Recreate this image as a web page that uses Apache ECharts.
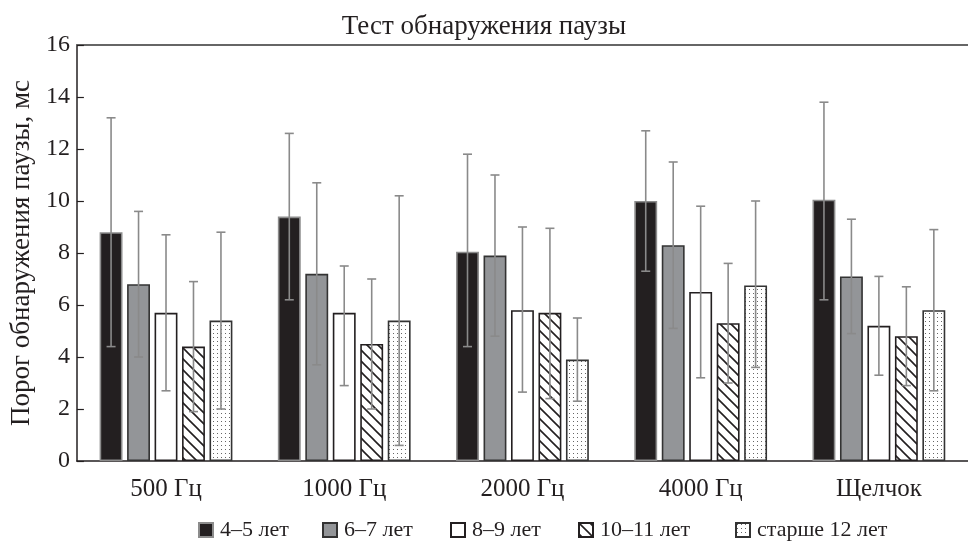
<!DOCTYPE html>
<html>
<head>
<meta charset="utf-8">
<script src="https://cdn.jsdelivr.net/npm/echarts@6/dist/echarts.min.js"></script>
<style>html,body{margin:0;padding:0;background:#fff;}#c{width:968px;height:546px;}</style>
</head>
<body>
<div id="c"></div>
<script>
const categories = ['500 Гц', '1000 Гц', '2000 Гц', '4000 Гц', 'Щелчок'];
const seriesNames = ['4–5 лет', '6–7 лет', '8–9 лет', '10–11 лет', 'старше 12 лет'];
const yTicks = [0, 2, 4, 6, 8, 10, 12, 14, 16];

const mean4_5   = [8.8, 9.4, 8.05, 10.0, 10.05];
const mean6_7   = [6.8, 7.2, 7.9, 8.3, 7.1];
const mean8_9   = [5.7, 5.7, 5.8, 6.5, 5.2];
const mean10_11 = [4.4, 4.5, 5.7, 5.3, 4.8];
const mean12    = [5.4, 5.4, 3.9, 6.75, 5.8];

const hi4_5   = [13.2, 12.6, 11.8, 12.7, 13.8];
const lo4_5   = [4.4, 6.2, 4.4, 7.3, 6.2];
const hi6_7   = [9.6, 10.7, 11.0, 11.5, 9.3];
const lo6_7   = [4.0, 3.7, 4.8, 5.1, 4.9];
const hi8_9   = [8.7, 7.5, 9.0, 9.8, 7.1];
const lo8_9   = [2.7, 2.9, 2.65, 3.2, 3.3];
const hi10_11 = [6.9, 7.0, 8.95, 7.6, 6.7];
const lo10_11 = [1.9, 2.0, 2.4, 3.0, 2.9];
const hi12    = [8.8, 10.2, 5.5, 10.0, 8.9];
const lo12    = [2.0, 0.6, 2.3, 3.6, 2.7];

const means = [mean4_5, mean6_7, mean8_9, mean10_11, mean12];
const highs = [hi4_5, hi6_7, hi8_9, hi10_11, hi12];
const lows  = [lo4_5, lo6_7, lo8_9, lo10_11, lo12];

function hatchPattern() {
  const s = 11;
  const c = document.createElement('canvas');
  c.width = s; c.height = s;
  const ctx = c.getContext('2d');
  ctx.fillStyle = '#fff'; ctx.fillRect(0, 0, s, s);
  ctx.strokeStyle = '#231f20'; ctx.lineWidth = 1.6;
  ctx.beginPath();
  ctx.moveTo(-2, -2); ctx.lineTo(s + 2, s + 2);
  ctx.moveTo(-2, s - 2); ctx.lineTo(2, s + 2);
  ctx.moveTo(s - 2, -2); ctx.lineTo(s + 2, 2);
  ctx.stroke();
  return c;
}
function dotPattern() {
  const s = 4;
  const c = document.createElement('canvas');
  c.width = s; c.height = s;
  const ctx = c.getContext('2d');
  ctx.fillStyle = '#fff'; ctx.fillRect(0, 0, s, s);
  ctx.fillStyle = '#666'; ctx.fillRect(1, 1, 1, 1);
  return c;
}

const fills = [
  '#231f20',
  '#939598',
  '#ffffff',
  { image: hatchPattern(), repeat: 'repeat' },
  { image: dotPattern(), repeat: 'repeat' }
];
const borders = ['#8c8c8c', '#333', '#231f20', '#231f20', '#333'];

const CAT_GAP = 0.255, BAR_GAP = 0.2;

const barSeries = seriesNames.map((n, i) => ({
  name: n,
  type: 'bar',
  data: means[i],
  barCategoryGap: (CAT_GAP * 100) + '%',
  barGap: (BAR_GAP * 100) + '%',
  itemStyle: { color: fills[i], borderColor: borders[i], borderWidth: 1.6 },
  emphasis: { disabled: true },
  z: 2
}));

const errSeries = seriesNames.map((n, i) => ({
  name: n,
  type: 'custom',
  data: categories.map((c, k) => [k, lows[i][k], highs[i][k]]),
  encode: { x: 0, y: [1, 2] },
  z: 5,
  silent: true,
  renderItem: function (params, api) {
    const k = api.value(0);
    const lo = api.coord([k, api.value(1)]);
    const hi = api.coord([k, api.value(2)]);
    const band = api.size([1, 0])[0];
    const w = band * (1 - CAT_GAP) / (5 + 4 * BAR_GAP);
    const x = lo[0] + (i - 2) * w * (1 + BAR_GAP);
    const cap = 4.5;
    const st = { stroke: '#8a8a8a', lineWidth: 1.6 };
    return {
      type: 'group',
      children: [
        { type: 'line', shape: { x1: x, y1: lo[1], x2: x, y2: hi[1] }, style: st },
        { type: 'line', shape: { x1: x - cap, y1: hi[1], x2: x + cap, y2: hi[1] }, style: st },
        { type: 'line', shape: { x1: x - cap, y1: lo[1], x2: x + cap, y2: lo[1] }, style: st }
      ]
    };
  }
}));

const legendLefts = [193, 317, 445, 573, 730];
const font = 'Liberation Serif';

const option = {
  backgroundColor: '#fff',
  animation: false,
  title: {
    text: 'Тест обнаружения паузы',
    left: 'center',
    top: 8,
    textStyle: { fontFamily: font, fontSize: 27, fontWeight: 'normal', color: '#231f20' }
  },
  legend: seriesNames.map((n, i) => ({
    data: [n],
    left: legendLefts[i],
    top: 514,
    icon: 'rect',
    itemWidth: 14,
    itemHeight: 14,
    itemGap: 6,
    selectedMode: false,
    textStyle: { fontFamily: font, fontSize: 22, color: '#231f20', padding: [0, 0, 0, 2] }
  })),
  grid: { left: 72, right: -2, top: 45, bottom: 85, containLabel: false },
  xAxis: [
    {
      type: 'category',
      data: categories,
      axisLine: { lineStyle: { color: '#231f20', width: 1.5 } },
      axisTick: { show: false },
      axisLabel: { fontFamily: font, fontSize: 25, color: '#231f20', margin: 16 }
    },
    {
      type: 'category',
      data: categories,
      position: 'top',
      axisLine: { lineStyle: { color: '#666', width: 2 } },
      axisTick: { show: false },
      axisLabel: { show: false }
    }
  ],
  yAxis: {
    type: 'value',
    min: yTicks[0],
    max: yTicks[yTicks.length - 1],
    interval: 2,
    name: 'Порог обнаружения паузы, мс',
    nameLocation: 'middle',
    nameGap: 36,
    nameTextStyle: { fontFamily: font, fontSize: 27, color: '#231f20' },
    axisLine: { show: true, lineStyle: { color: '#231f20', width: 1.5 } },
    axisTick: { show: true, inside: true, length: 7, lineStyle: { color: '#231f20', width: 1.2 } },
    axisLabel: { fontFamily: font, fontSize: 24, color: '#231f20', margin: 7 },
    splitLine: { show: false }
  },
  series: barSeries.concat(errSeries)
};

const chart = echarts.init(document.getElementById('c'), null, { renderer: 'canvas' });
chart.setOption(option);
</script>
</body>
</html>
